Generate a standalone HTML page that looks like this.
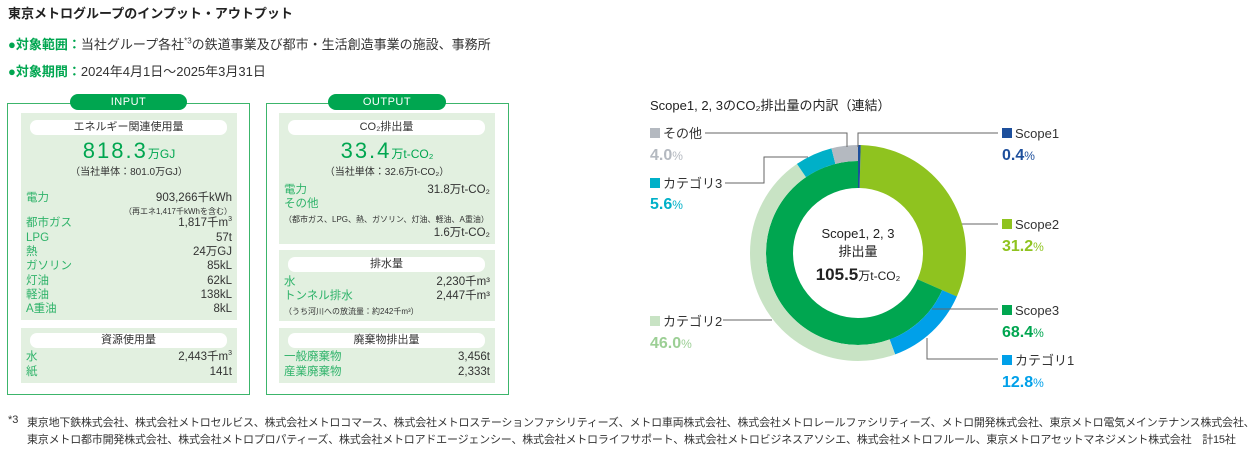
<!DOCTYPE html>
<html><head><meta charset="utf-8"><style>
body{margin:0;width:1256px;height:452px;background:#fff;position:relative;overflow:hidden;font-family:"Liberation Sans","Noto Sans CJK JP",sans-serif;color:#333}
.a{position:absolute;white-space:nowrap}
.g{color:#00a650}
.box{position:absolute;border:1.5px solid #3cb56b;box-sizing:border-box}
.pill{position:absolute;background:#00a650;color:#fff;border-radius:9px;height:16px;line-height:16px;text-align:center;font-size:11px;letter-spacing:.5px}
.pan{position:absolute;background:#e2f0e0}
.hd{position:absolute;background:#fff;border-radius:7px;height:15px;line-height:15px;text-align:center;font-size:11px;color:#333}
.row{position:absolute;font-size:11.5px;line-height:13px}
.row .l{position:absolute;left:0;color:#2fb36a}
.row .r{position:absolute;right:0;color:#333}
.sm{font-size:8px}
.row .sm{font-size:8px}
.u{font-size:7px;position:relative;top:-5px;line-height:0}
</style></head><body>
<div class="a" style="left:8px;top:3px;font-size:13px;font-weight:bold;color:#222">東京メトログループのインプット・アウトプット</div>
<div class="a" style="left:8px;top:34px;font-size:13px"><span class="g" style="font-weight:bold">●対象範囲：</span>当社グループ各社<sup style="font-size:8px">*3</sup>の鉄道事業及び都市・生活創造事業の施設、事務所</div>
<div class="a" style="left:8px;top:61px;font-size:13px"><span class="g" style="font-weight:bold">●対象期間：</span>2024年4月1日～2025年3月31日</div>

<!-- INPUT -->
<div class="box" style="left:7px;top:103px;width:243px;height:292px"></div>
<div class="pill" style="left:70px;top:94px;width:117px">INPUT</div>
<div class="pan" style="left:21px;top:113px;width:216px;height:207px"></div>
<div class="hd" style="left:30px;top:120px;width:197px">エネルギー関連使用量</div>
<div class="a" style="left:21px;width:216px;text-align:center;top:138px;font-size:22px;color:#00a650;letter-spacing:2px">818.3<span style="font-size:12px;letter-spacing:0">万GJ</span></div>
<div class="a" style="left:21px;width:216px;text-align:center;top:163px;font-size:10px">（当社単体：801.0万GJ）</div>
<div class="row" style="left:26px;width:206px;top:192px"><span class="l">電力</span><span class="r">903,266千kWh</span></div>
<div class="row" style="left:26px;width:206px;top:205px"><span class="r sm">（再エネ1,417千kWhを含む）</span></div>
<div class="row" style="left:26px;width:206px;top:217px"><span class="l">都市ガス</span><span class="r">1,817千m<span class="u">3</span></span></div>
<div class="row" style="left:26px;width:206px;top:232px"><span class="l">LPG</span><span class="r">57t</span></div>
<div class="row" style="left:26px;width:206px;top:246px"><span class="l">熱</span><span class="r">24万GJ</span></div>
<div class="row" style="left:26px;width:206px;top:260px"><span class="l">ガソリン</span><span class="r">85kL</span></div>
<div class="row" style="left:26px;width:206px;top:275px"><span class="l">灯油</span><span class="r">62kL</span></div>
<div class="row" style="left:26px;width:206px;top:289px"><span class="l">軽油</span><span class="r">138kL</span></div>
<div class="row" style="left:26px;width:206px;top:303px"><span class="l">A重油</span><span class="r">8kL</span></div>
<div class="pan" style="left:21px;top:328px;width:216px;height:55px"></div>
<div class="hd" style="left:30px;top:333px;width:197px">資源使用量</div>
<div class="row" style="left:26px;width:206px;top:351px"><span class="l">水</span><span class="r">2,443千m<span class="u">3</span></span></div>
<div class="row" style="left:26px;width:206px;top:366px"><span class="l">紙</span><span class="r">141t</span></div>

<!-- OUTPUT -->
<div class="box" style="left:266px;top:103px;width:243px;height:292px"></div>
<div class="pill" style="left:328px;top:94px;width:118px">OUTPUT</div>
<div class="pan" style="left:279px;top:113px;width:216px;height:131px"></div>
<div class="hd" style="left:288px;top:120px;width:197px">CO₂排出量</div>
<div class="a" style="left:279px;width:216px;text-align:center;top:138px;font-size:22px;color:#00a650;letter-spacing:2px">33.4<span style="font-size:12px;letter-spacing:0">万t-CO₂</span></div>
<div class="a" style="left:279px;width:216px;text-align:center;top:163px;font-size:10px">（当社単体：32.6万t-CO₂）</div>
<div class="row" style="left:284px;width:206px;top:184px"><span class="l">電力</span><span class="r">31.8万t-CO₂</span></div>
<div class="row" style="left:284px;width:206px;top:198px"><span class="l">その他</span></div>
<div class="row" style="left:284px;width:206px;top:213px"><span class="l sm" style="color:#333">（都市ガス、LPG、熱、ガソリン、灯油、軽油、A重油）</span></div>
<div class="row" style="left:284px;width:206px;top:227px"><span class="r">1.6万t-CO₂</span></div>
<div class="pan" style="left:279px;top:250px;width:216px;height:71px"></div>
<div class="hd" style="left:288px;top:257px;width:197px">排水量</div>
<div class="row" style="left:284px;width:206px;top:276px"><span class="l">水</span><span class="r">2,230千m³</span></div>
<div class="row" style="left:284px;width:206px;top:290px"><span class="l">トンネル排水</span><span class="r">2,447千m³</span></div>
<div class="row" style="left:284px;width:206px;top:305px"><span class="l sm" style="color:#333">（うち河川への放流量：約242千m³）</span></div>
<div class="pan" style="left:279px;top:328px;width:216px;height:55px"></div>
<div class="hd" style="left:288px;top:333px;width:197px">廃棄物排出量</div>
<div class="row" style="left:284px;width:206px;top:351px"><span class="l">一般廃棄物</span><span class="r">3,456t</span></div>
<div class="row" style="left:284px;width:206px;top:366px"><span class="l">産業廃棄物</span><span class="r">2,333t</span></div>

<!-- chart -->
<div class="a" style="left:650px;top:95px;font-size:13px;color:#222">Scope1, 2, 3のCO₂排出量の内訳（連結）</div>
<svg class="a" style="left:0;top:0" width="1256" height="452">
<g transform="rotate(-90 858 253)" fill="none">
<circle cx="858" cy="253" r="86.5" stroke="#8fc31f" stroke-width="43" stroke-dasharray="169.6 1000" stroke-dashoffset="-2.17"/>
<circle cx="858" cy="253" r="86.5" stroke="#1d4f9c" stroke-width="43" stroke-dasharray="2.17 1000"/>
<circle cx="858" cy="253" r="78.5" stroke="#00a650" stroke-width="27" stroke-dasharray="337.4 1000" stroke-dashoffset="-155.9"/>
<circle cx="858" cy="253" r="100" stroke="#00a0e9" stroke-width="16" stroke-dasharray="80.4 1000" stroke-dashoffset="-198.5"/>
<circle cx="858" cy="253" r="100" stroke="#c8e3c4" stroke-width="16" stroke-dasharray="289 1000" stroke-dashoffset="-279"/>
<circle cx="858" cy="253" r="100" stroke="#00b0c8" stroke-width="16" stroke-dasharray="35.2 1000" stroke-dashoffset="-568"/>
<circle cx="858" cy="253" r="100" stroke="#b4b9c0" stroke-width="16" stroke-dasharray="25.1 1000" stroke-dashoffset="-603.2"/>
</g>
<g stroke="#666" stroke-width="1" fill="none">
<polyline points="705,133 847,133 847,147"/>
<polyline points="858,147 858,133 998,133"/>
<polyline points="725,183 764,183 764,157 808,157"/>
<line x1="962" y1="224" x2="998" y2="224"/>
<line x1="932" y1="309" x2="998" y2="309"/>
<polyline points="927,338 927,359 998,359"/>
<line x1="723" y1="320" x2="772" y2="320"/>
</g>
<g font-size="13" fill="#333">
<rect x="650" y="128" width="10" height="10" fill="#b4b9c0"/><text x="663" y="138">その他</text>
<rect x="650" y="178" width="10" height="10" fill="#00b0c8"/><text x="663" y="188">カテゴリ3</text>
<rect x="650" y="316" width="10" height="10" fill="#c8e3c4"/><text x="663" y="326">カテゴリ2</text>
<rect x="1002" y="128" width="10" height="10" fill="#1d4f9c"/><text x="1015" y="138">Scope1</text>
<rect x="1002" y="219" width="10" height="10" fill="#8fc31f"/><text x="1015" y="229">Scope2</text>
<rect x="1002" y="305" width="10" height="10" fill="#00a650"/><text x="1015" y="315">Scope3</text>
<rect x="1002" y="355" width="10" height="10" fill="#00a0e9"/><text x="1015" y="365">カテゴリ1</text>
</g>
<g font-size="16" font-weight="bold">
<text x="650" y="160" fill="#b4b9c0">4.0<tspan font-size="12" font-weight="normal">%</tspan></text>
<text x="650" y="209" fill="#00b0c8">5.6<tspan font-size="12" font-weight="normal">%</tspan></text>
<text x="650" y="348" fill="#9ccf95">46.0<tspan font-size="12" font-weight="normal">%</tspan></text>
<text x="1002" y="160" fill="#1d4f9c">0.4<tspan font-size="12" font-weight="normal">%</tspan></text>
<text x="1002" y="251" fill="#8fc31f">31.2<tspan font-size="12" font-weight="normal">%</tspan></text>
<text x="1002" y="337" fill="#00a650">68.4<tspan font-size="12" font-weight="normal">%</tspan></text>
<text x="1002" y="387" fill="#00a0e9">12.8<tspan font-size="12" font-weight="normal">%</tspan></text>
</g>
<g text-anchor="middle" fill="#222">
<text x="858" y="238" font-size="13">Scope1, 2, 3</text>
<text x="858" y="256" font-size="13">排出量</text>
<text x="858" y="280" font-size="17" font-weight="bold">105.5<tspan font-size="12" font-weight="normal">万t-CO₂</tspan></text>
</g>
</svg>

<div class="a" style="left:8px;top:414px;font-size:11px">*3</div>
<div class="a" style="left:27px;top:414px;font-size:11px;letter-spacing:-0.2px">東京地下鉄株式会社、株式会社メトロセルビス、株式会社メトロコマース、株式会社メトロステーションファシリティーズ、メトロ車両株式会社、株式会社メトロレールファシリティーズ、メトロ開発株式会社、東京メトロ電気メインテナンス株式会社、</div>
<div class="a" style="left:27px;top:431px;font-size:11px;letter-spacing:-0.2px">東京メトロ都市開発株式会社、株式会社メトロプロパティーズ、株式会社メトロアドエージェンシー、株式会社メトロライフサポート、株式会社メトロビジネスアソシエ、株式会社メトロフルール、東京メトロアセットマネジメント株式会社　計15社</div>
</body></html>
